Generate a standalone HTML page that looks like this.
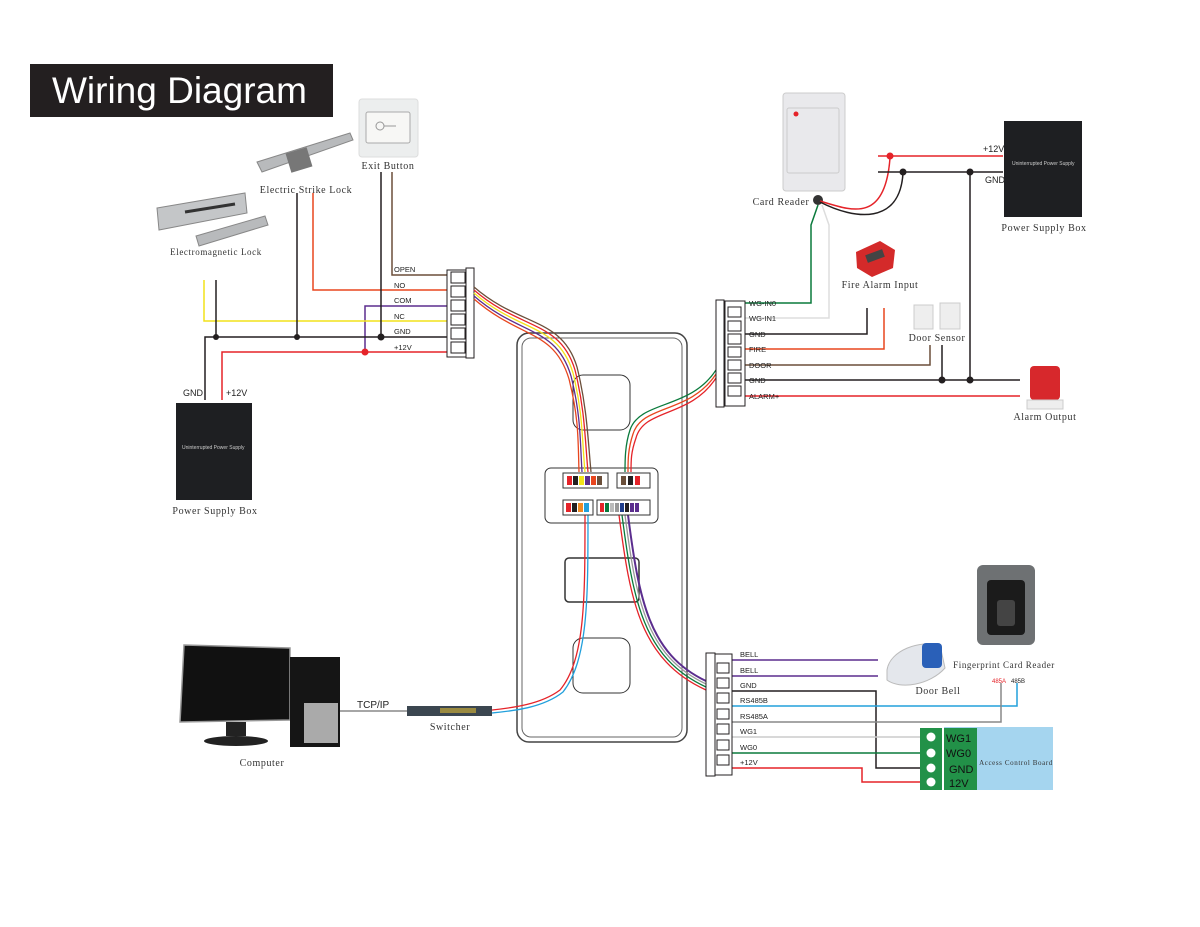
<!DOCTYPE html>
<html><head><meta charset="utf-8"><style>
body{margin:0;background:#fff}
svg{display:block}
.s{font-family:"Liberation Serif",serif;font-size:10px;fill:#333;letter-spacing:0.6px}
.w{font-family:"Liberation Sans",sans-serif;font-size:7.5px;fill:#222}
.p{font-family:"Liberation Sans",sans-serif;font-size:9px;fill:#222}
</style></head><body>
<svg width="1200" height="927" viewBox="0 0 1200 927" xmlns="http://www.w3.org/2000/svg" fill="none">
<rect x="30" y="64" width="303" height="53" fill="#231f20"/>
<text x="52" y="103" style="font-family:'Liberation Sans',sans-serif;font-size:37px;fill:#fff">Wiring Diagram</text>

<!-- Exit button -->
<rect x="359" y="99" width="59" height="58" rx="3" fill="#eceeee" stroke="#ddd"/>
<rect x="366" y="112" width="44" height="31" rx="2" fill="#f7f7f5" stroke="#aaa"/>
<circle cx="380" cy="126" r="4" stroke="#999"/><line x1="384" y1="126" x2="396" y2="126" stroke="#999"/>
<text x="388" y="169" class="s" text-anchor="middle">Exit Button</text>
<!-- strike lock -->
<polygon points="257,162 350,133 353,140 262,172" fill="#b8babc" stroke="#888"/>
<rect x="288" y="150" width="22" height="20" fill="#777" transform="rotate(-17 299 160)"/>
<text x="306" y="193" class="s" text-anchor="middle">Electric Strike Lock</text>
<!-- EM lock -->
<polygon points="157,208 245,193 247,213 159,230" fill="#c4c6c8" stroke="#888"/>
<polygon points="196,236 265,216 268,225 199,246" fill="#b8babc" stroke="#888"/>
<line x1="185" y1="212" x2="235" y2="204" stroke="#333" stroke-width="3"/>
<text x="216" y="255" class="s" text-anchor="middle" style="font-size:9px">Electromagnetic Lock</text>

<!-- left wires -->
<g stroke-width="1.5">
<polyline points="392,172 392,275 447,275" stroke="#6b4f3a"/>
<polyline points="313,193 313,290 447,290" stroke="#e8461e"/>
<polyline points="365,352 365,306 447,306" stroke="#5b2d8e"/>
<polyline points="204,280 204,321 447,321" stroke="#f2e21a"/>
<polyline points="205,400 205,337 447,337" stroke="#231f20"/>
<polyline points="222,400 222,352 447,352" stroke="#e52329"/>
<line x1="216" y1="280" x2="216" y2="337" stroke="#231f20"/>
<line x1="297" y1="193" x2="297" y2="337" stroke="#231f20"/>
<line x1="381" y1="172" x2="381" y2="337" stroke="#231f20"/>
</g>
<circle cx="216" cy="337" r="3" fill="#231f20"/><circle cx="297" cy="337" r="3" fill="#231f20"/><circle cx="381" cy="337" r="3.5" fill="#231f20"/><circle cx="365" cy="352" r="3.5" fill="#e52329"/>
<g class="w"><text x="394" y="272">OPEN</text><text x="394" y="288">NO</text><text x="394" y="303">COM</text><text x="394" y="319">NC</text><text x="394" y="334">GND</text><text x="394" y="350">+12V</text></g>
<rect x="447" y="270" width="20" height="87" fill="#fff" stroke="#231f20"/>
<rect x="466" y="268" width="8" height="90" fill="#fff" stroke="#231f20"/>
<g fill="#fff" stroke="#231f20"><rect x="451" y="272" width="14" height="11"/><rect x="451" y="286" width="14" height="11"/><rect x="451" y="300" width="14" height="11"/><rect x="451" y="314" width="14" height="11"/><rect x="451" y="328" width="14" height="11"/><rect x="451" y="342" width="14" height="11"/></g>

<!-- left PSU -->
<text x="183" y="396" class="p">GND</text><text x="226" y="396" class="p">+12V</text>
<rect x="176" y="403" width="76" height="97" fill="#1e1f22"/>
<text x="182" y="449" style="font-family:'Liberation Sans';font-size:5px;fill:#ccc">Uninterrupted Power Supply</text>
<text x="215" y="514" class="s" text-anchor="middle">Power Supply Box</text>

<!-- device -->
<rect x="517" y="333" width="170" height="409" rx="12" fill="#fff" stroke="#444" stroke-width="1.5"/>
<rect x="522" y="338" width="160" height="399" rx="9" stroke="#666"/>
<rect x="573" y="375" width="57" height="55" rx="10" stroke="#333"/>
<rect x="565" y="558" width="74" height="44" rx="4" stroke="#333" stroke-width="1.5"/>
<rect x="573" y="638" width="57" height="55" rx="10" stroke="#333"/>
<rect x="545" y="468" width="113" height="55" rx="6" fill="#fff" stroke="#333"/>

<!-- cables -->
<g fill="none" stroke-width="1.3">
<path d="M474,290 C520,330 560,320 575,370 C585,410 585,440 588,472" stroke="#e52329"/>
<path d="M474,293 C520,333 558,323 573,373 C583,413 582,440 585,472" stroke="#f2e21a"/>
<path d="M474,296 C520,336 556,326 571,376 C581,416 580,440 582,472" stroke="#5b2d8e"/>
<path d="M474,287 C520,327 562,317 577,367 C587,407 588,440 591,472" stroke="#6b4f3a"/>
<path d="M474,299 C520,339 554,329 569,379 C579,419 578,440 579,472" stroke="#e8461e"/>
<path d="M716,370 C690,410 640,400 630,430 C625,445 625,460 625,472" stroke="#0a7a3c"/>
<path d="M716,374 C690,414 642,404 633,434 C628,449 628,460 628,472" stroke="#e8461e"/>
<path d="M716,378 C690,418 644,408 636,438 C631,452 631,460 631,472" stroke="#e52329"/>
<path d="M585,515 C585,600 585,660 560,690 C540,705 510,708 492,710" stroke="#e52329"/>
<path d="M588,515 C588,600 588,660 563,692 C543,708 512,711 492,713" stroke="#22a0dc"/>
<path d="M619,515 C630,600 640,660 706,690" stroke="#e52329"/>
<path d="M622,515 C633,600 643,658 706,687" stroke="#0a7a3c"/>
<path d="M625,515 C636,600 646,656 706,684" stroke="#999"/>
<path d="M628,515 C639,600 649,654 706,681" stroke="#5b2d8e" stroke-width="2"/>
</g>
<!-- terminal sub blocks -->
<rect x="563" y="473" width="45" height="15" fill="#fff" stroke="#333"/>
<g><rect x="567" y="476" width="5" height="9" fill="#e52329"/><rect x="573" y="476" width="5" height="9" fill="#231f20"/><rect x="579" y="476" width="5" height="9" fill="#f2e21a"/><rect x="585" y="476" width="5" height="9" fill="#5b2d8e"/><rect x="591" y="476" width="5" height="9" fill="#e8461e"/><rect x="597" y="476" width="5" height="9" fill="#6b4f3a"/></g>
<rect x="617" y="473" width="33" height="15" fill="#fff" stroke="#333"/>
<g><rect x="621" y="476" width="5" height="9" fill="#6b4f3a"/><rect x="628" y="476" width="5" height="9" fill="#231f20"/><rect x="635" y="476" width="5" height="9" fill="#e52329"/></g>
<rect x="563" y="500" width="30" height="15" fill="#fff" stroke="#333"/>
<g><rect x="566" y="503" width="5" height="9" fill="#e52329"/><rect x="572" y="503" width="5" height="9" fill="#231f20"/><rect x="578" y="503" width="5" height="9" fill="#f08a24"/><rect x="584" y="503" width="5" height="9" fill="#22a0dc"/></g>
<rect x="597" y="500" width="53" height="15" fill="#fff" stroke="#333"/>
<g><rect x="600" y="503" width="4" height="9" fill="#e52329"/><rect x="605" y="503" width="4" height="9" fill="#0a7a3c"/><rect x="610" y="503" width="4" height="9" fill="#bbb"/><rect x="615" y="503" width="4" height="9" fill="#999"/><rect x="620" y="503" width="4" height="9" fill="#1e3c8c"/><rect x="625" y="503" width="4" height="9" fill="#231f20"/><rect x="630" y="503" width="4" height="9" fill="#5b2d8e"/><rect x="635" y="503" width="4" height="9" fill="#5b2d8e"/></g>

<!-- right top -->
<rect x="783" y="93" width="62" height="98" rx="3" fill="#e9e9ec" stroke="#ccc"/>
<rect x="787" y="108" width="52" height="65" rx="2" stroke="#ccc"/>
<circle cx="796" cy="114" r="2.5" fill="#e52329"/>
<text x="781" y="205" class="s" text-anchor="middle">Card Reader</text>
<circle cx="818" cy="200" r="5" fill="#333"/>
<path d="M820,201 C850,210 885,225 890,158" stroke="#e52329" stroke-width="1.5"/>
<path d="M820,202 C855,220 900,225 903,173" stroke="#231f20" stroke-width="1.5"/>
<g stroke-width="1.5">
<line x1="878" y1="156" x2="1003" y2="156" stroke="#e52329"/>
<line x1="878" y1="172" x2="1003" y2="172" stroke="#231f20"/>
<polyline points="818,205 811,225 811,303 742,303" stroke="#0a7a3c"/>
<polyline points="822,205 829,225 829,318 742,318" stroke="#ddd"/>
<polyline points="867,308 867,334 742,334" stroke="#231f20"/>
<polyline points="884,308 884,349 742,349" stroke="#e8461e"/>
<polyline points="930,345 930,365 742,365" stroke="#6b4f3a"/>
<line x1="742" y1="380" x2="1020" y2="380" stroke="#231f20"/>
<line x1="742" y1="396" x2="1020" y2="396" stroke="#e52329"/>
<line x1="942" y1="345" x2="942" y2="380" stroke="#231f20"/>
<line x1="970" y1="172" x2="970" y2="380" stroke="#231f20"/>
</g>
<circle cx="890" cy="156" r="3.5" fill="#e52329"/><circle cx="903" cy="172" r="3.5" fill="#231f20"/><circle cx="970" cy="172" r="3.5" fill="#231f20"/><circle cx="942" cy="380" r="3.5" fill="#231f20"/><circle cx="970" cy="380" r="3.5" fill="#231f20"/>
<text x="983" y="152" class="p">+12V</text><text x="985" y="183" class="p">GND</text>
<rect x="1004" y="121" width="78" height="96" fill="#1e1f22"/>
<text x="1012" y="165" style="font-family:'Liberation Sans';font-size:5px;fill:#ccc">Uninterrupted Power Supply</text>
<text x="1044" y="231" class="s" text-anchor="middle">Power Supply Box</text>
<polygon points="856,252 880,241 895,250 893,268 872,277 857,268" fill="#d42a2a"/>
<rect x="866" y="252" width="18" height="8" fill="#444" transform="rotate(-20 875 256)"/>
<text x="880" y="288" class="s" text-anchor="middle">Fire Alarm Input</text>
<rect x="914" y="305" width="19" height="24" fill="#eee" stroke="#ccc"/><rect x="940" y="303" width="20" height="26" fill="#eee" stroke="#ccc"/>
<text x="937" y="341" class="s" text-anchor="middle">Door Sensor</text>
<rect x="1030" y="366" width="30" height="34" rx="4" fill="#d7282c"/>
<rect x="1027" y="400" width="36" height="9" fill="#eee" stroke="#ccc"/>
<text x="1045" y="420" class="s" text-anchor="middle">Alarm Output</text>
<g class="w"><text x="749" y="306">WG-IN0</text><text x="749" y="321">WG-IN1</text><text x="749" y="337">GND</text><text x="749" y="352">FIRE</text><text x="749" y="368">DOOR</text><text x="749" y="383">GND</text><text x="749" y="399">ALARM+</text></g>
<rect x="725" y="301" width="20" height="105" fill="#fff" stroke="#231f20"/>
<rect x="716" y="300" width="8" height="107" fill="#fff" stroke="#231f20"/>
<g fill="#fff" stroke="#231f20"><rect x="728" y="307" width="13" height="10"/><rect x="728" y="321" width="13" height="10"/><rect x="728" y="334" width="13" height="10"/><rect x="728" y="347" width="13" height="10"/><rect x="728" y="360" width="13" height="10"/><rect x="728" y="373" width="13" height="10"/><rect x="728" y="386" width="13" height="10"/></g>

<!-- bottom right -->
<g stroke-width="1.5">
<line x1="731" y1="660" x2="878" y2="660" stroke="#5b2d8e"/>
<line x1="731" y1="676" x2="878" y2="676" stroke="#5b2d8e"/>
<polyline points="731,691 876,691 876,768 920,768" stroke="#231f20"/>
<polyline points="731,706 1017,706 1017,683" stroke="#22a0dc"/>
<polyline points="731,722 1001,722 1001,683" stroke="#888"/>
<line x1="731" y1="737" x2="920" y2="737" stroke="#ccc"/>
<line x1="731" y1="753" x2="920" y2="753" stroke="#0a7a3c"/>
<polyline points="731,768 862,768 862,782 920,782" stroke="#e52329"/>
</g>
<g class="w"><text x="740" y="657">BELL</text><text x="740" y="673">BELL</text><text x="740" y="688">GND</text><text x="740" y="703">RS485B</text><text x="740" y="719">RS485A</text><text x="740" y="734">WG1</text><text x="740" y="750">WG0</text><text x="740" y="765">+12V</text></g>
<rect x="715" y="654" width="17" height="121" fill="#fff" stroke="#231f20"/>
<rect x="706" y="653" width="9" height="123" fill="#fff" stroke="#231f20"/>
<g fill="#fff" stroke="#231f20"><rect x="717" y="663" width="12" height="10"/><rect x="717" y="678" width="12" height="10"/><rect x="717" y="693" width="12" height="10"/><rect x="717" y="709" width="12" height="10"/><rect x="717" y="724" width="12" height="10"/><rect x="717" y="740" width="12" height="10"/><rect x="717" y="755" width="12" height="10"/></g>
<rect x="944" y="727" width="109" height="63" fill="#a5d5ef"/>
<rect x="920" y="728" width="22" height="62" fill="#229148"/>
<rect x="944" y="728" width="33" height="62" fill="#229148"/>
<g fill="#fff"><circle cx="931" cy="737" r="4.5"/><circle cx="931" cy="753" r="4.5"/><circle cx="931" cy="768" r="4.5"/><circle cx="931" cy="782" r="4.5"/></g>
<g style="font-family:'Liberation Sans';font-size:11px;fill:#111"><text x="946" y="742">WG1</text><text x="946" y="757">WG0</text><text x="949" y="773">GND</text><text x="949" y="787">12V</text></g>
<text x="1016" y="765" class="s" text-anchor="middle" style="font-size:7px">Access Control Board</text>
<path d="M887,670 C890,650 920,640 940,645 L945,668 C930,685 900,690 887,680 Z" fill="#e4e7ec" stroke="#bbb"/>
<rect x="922" y="643" width="20" height="25" rx="4" fill="#2a60b8"/>
<text x="938" y="694" class="s" text-anchor="middle">Door Bell</text>
<rect x="977" y="565" width="58" height="80" rx="6" fill="#6e7173"/>
<rect x="987" y="580" width="38" height="55" rx="4" fill="#1b1b1b"/>
<rect x="997" y="600" width="18" height="26" rx="3" fill="#444"/>
<text x="1004" y="668" class="s" text-anchor="middle" style="font-size:9px">Fingerprint Card Reader</text>
<text x="992" y="683" style="font-family:'Liberation Sans';font-size:6px;fill:#e52329">485A</text>
<text x="1011" y="683" style="font-family:'Liberation Sans';font-size:6px;fill:#222">485B</text>

<!-- computer -->
<polygon points="184,645 290,648 290,720 180,722" fill="#111" stroke="#999" stroke-width="1.5"/>
<rect x="226" y="722" width="20" height="14" fill="#222"/>
<ellipse cx="236" cy="741" rx="32" ry="5" fill="#222"/>
<rect x="290" y="657" width="50" height="90" fill="#151515"/>
<rect x="304" y="703" width="34" height="40" fill="#aaa"/>
<text x="262" y="766" class="s" text-anchor="middle">Computer</text>
<line x1="340" y1="711" x2="407" y2="711" stroke="#888" stroke-width="1.5"/>
<text x="357" y="708" class="p" style="font-size:10px">TCP/IP</text>
<rect x="407" y="706" width="85" height="10" fill="#3b4650"/>
<rect x="440" y="708" width="36" height="5" fill="#9a8a40"/>
<text x="450" y="730" class="s" text-anchor="middle">Switcher</text>
</svg>
</body></html>
